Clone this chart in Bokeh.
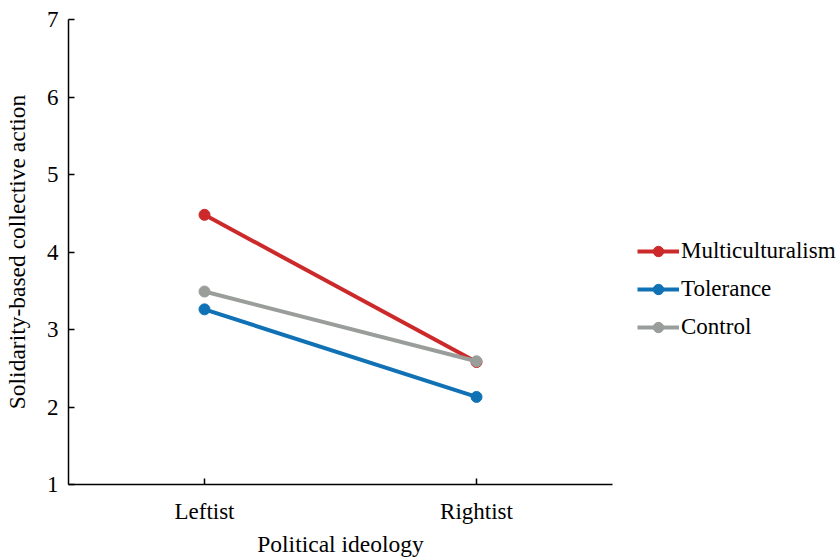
from bokeh.plotting import figure
from bokeh.layouts import row
from bokeh.models import FactorRange, Legend, LegendItem, FixedTicker, Range1d
from bokeh.embed import file_html
from bokeh.resources import INLINE

ideology = ["Leftist", "Rightist"]
multiculturalism = [4.48, 2.58]
tolerance = [3.26, 2.13]
control = [3.49, 2.59]
y_ticks = [1, 2, 3, 4, 5, 6, 7]

series = [
    ("Multiculturalism", multiculturalism, "#cc2a2a"),
    ("Tolerance", tolerance, "#1072b4"),
    ("Control", control, "#9a9e9b"),
]

FONT = "Liberation Serif"

p = figure(width=616, height=559, output_backend="svg", toolbar_location=None,
           x_range=FactorRange(*ideology, range_padding=0), y_range=(1, 7),
           min_border_left=68, min_border_top=19, min_border_bottom=74,
           min_border_right=4)
p.outline_line_color = None
p.xgrid.visible = False
p.ygrid.visible = False

# legend panel: separate axis-less figure whose (off-view) renderers carry the legend glyphs
lg = figure(width=224, height=559, output_backend="svg", toolbar_location=None,
            min_border=0, x_axis_type=None, y_axis_type=None,
            x_range=FactorRange(*ideology), y_range=Range1d(100, 101))
lg.outline_line_color = None
lg.xgrid.visible = False
lg.ygrid.visible = False

items = []
for name, vals, col in series:
    p.line(ideology, vals, line_color=col, line_width=4)
    p.scatter(ideology, vals, size=11, fill_color=col, line_color=col)
    d1 = lg.line(ideology, vals, line_color=col, line_width=4)
    d2 = lg.scatter(ideology, vals, size=11, fill_color=col, line_color=col)
    items.append(LegendItem(label=name, renderers=[d1, d2]))

for ax in (p.xaxis[0], p.yaxis[0]):
    ax.axis_line_color = "black"
    ax.axis_line_width = 1.5
    ax.major_tick_line_color = "black"
    ax.major_tick_line_width = 1.5
    ax.major_tick_in = 6
    ax.major_tick_out = 0
    ax.minor_tick_line_color = None
    ax.major_label_text_font = FONT
    ax.major_label_text_font_size = "23px"
    ax.major_label_text_color = "black"
    ax.axis_label_text_font = FONT
    ax.axis_label_text_font_size = "23.5px"
    ax.axis_label_text_font_style = "normal"
    ax.axis_label_text_color = "black"

p.yaxis.ticker = FixedTicker(ticks=y_ticks)
p.yaxis.major_label_standoff = 10
p.xaxis.major_label_standoff = 14
p.xaxis.axis_label = "Political ideology"
p.yaxis.axis_label = "Solidarity-based collective action"
p.xaxis.axis_label_standoff = 4
p.yaxis.axis_label_standoff = 14

legend = Legend(items=items, location=(21, 144), border_line_color=None,
                background_fill_alpha=0, label_text_font=FONT,
                label_text_font_size="23px", label_text_color="black",
                glyph_width=42, glyph_height=26, spacing=12, label_standoff=2,
                margin=0, padding=0)
lg.add_layout(legend, "center")

layout = row(p, lg, spacing=0)
open("out.html", "w").write(file_html(layout, INLINE))
